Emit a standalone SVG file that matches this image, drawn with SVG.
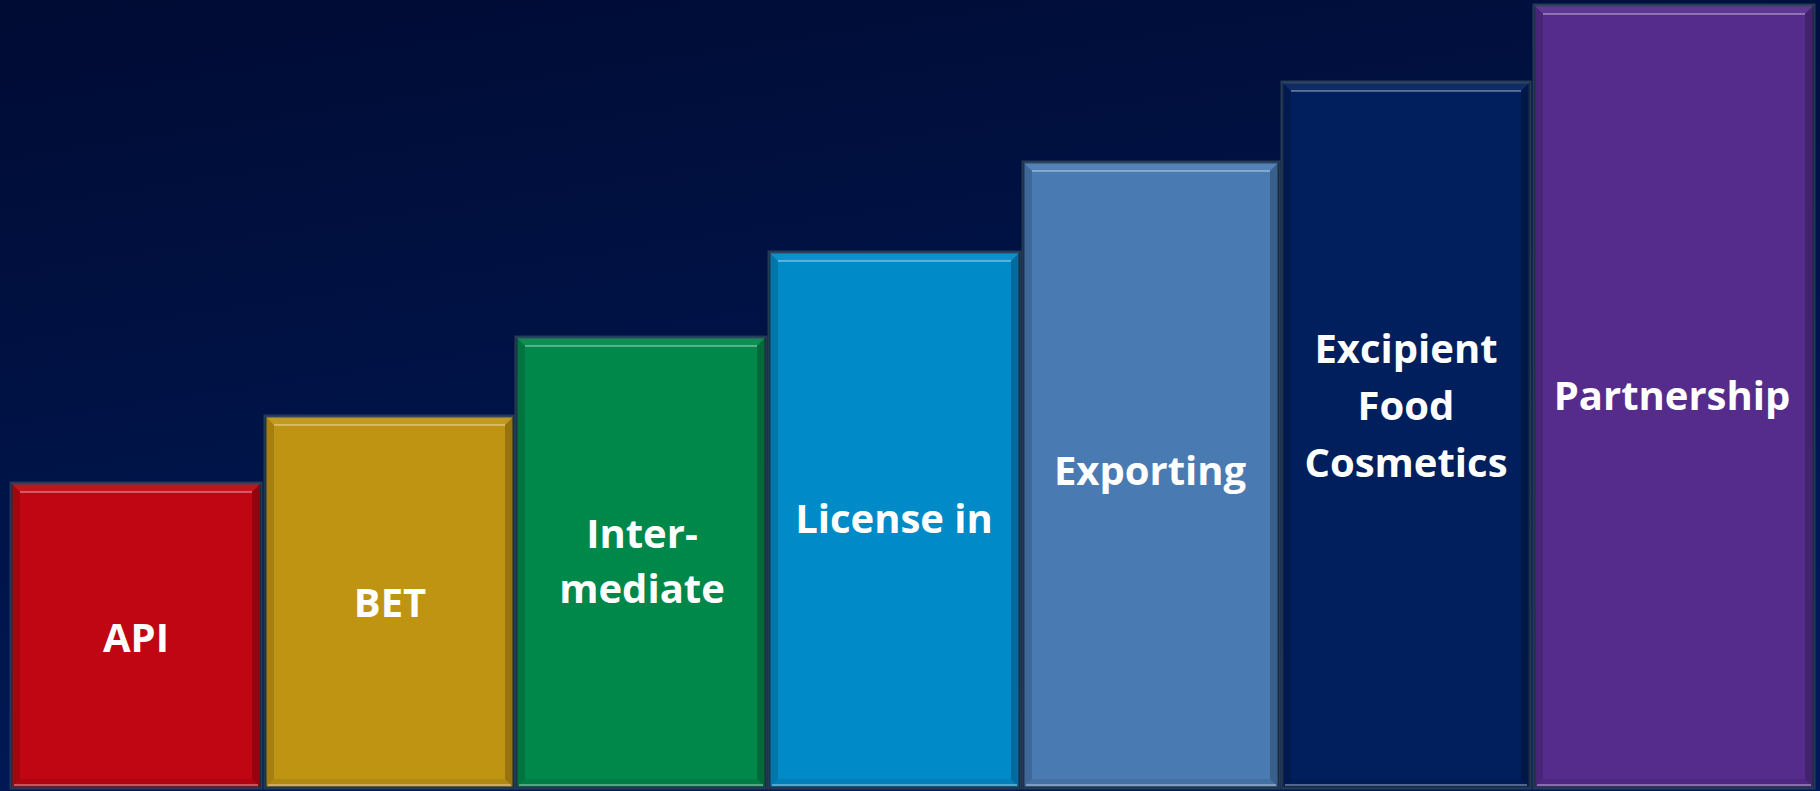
<svg xmlns="http://www.w3.org/2000/svg" width="1820" height="791" viewBox="0 0 1820 791">
<defs>
<linearGradient id="bg" x1="0" y1="0" x2="0.35" y2="1">
<stop offset="0" stop-color="#000b33"/>
<stop offset="1" stop-color="#001a58"/>
</linearGradient>
<style>
.frame{stroke:#253a55;stroke-width:3}
.l{fill:#000;fill-opacity:0.14}
.r{fill:#000;fill-opacity:0.22}
.t{fill:#fff;fill-opacity:0.06}
.b{fill:#000;fill-opacity:0.08}
.hl{stroke:#fff;stroke-opacity:0.32;stroke-width:2}
.lbl{font-family:"Open Sans","Liberation Sans",sans-serif;font-weight:bold;font-size:40px;fill:#fff;text-anchor:middle}
</style>
</defs>
<rect width="1820" height="791" fill="url(#bg)"/>
<g id="connectors"/>
<g id="api">
<rect class="frame" x="11" y="483" width="250" height="305" fill="#bf0612"/>
<polygon class="l" points="11,483 20,492 20,779 11,788"/>
<polygon class="r" points="261,483 252,492 252,779 261,788"/>
<polygon class="t" points="11,483 261,483 252,492 20,492"/>
<polygon class="b" points="11,788 261,788 252,779 20,779"/>
<line class="hl" x1="20" y1="492" x2="252" y2="492"/>
<line class="hl" x1="14" y1="785" x2="258" y2="785"/>
<text class="lbl" x="136" y="652">API</text>
</g>
<g id="bet">
<rect class="frame" x="265" y="416" width="249" height="372" fill="#c09413"/>
<polygon class="l" points="265,416 274,425 274,779 265,788"/>
<polygon class="r" points="514,416 505,425 505,779 514,788"/>
<polygon class="t" points="265,416 514,416 505,425 274,425"/>
<polygon class="b" points="265,788 514,788 505,779 274,779"/>
<line class="hl" x1="274" y1="425" x2="505" y2="425"/>
<line class="hl" x1="268" y1="785" x2="511" y2="785"/>
<text class="lbl" x="390" y="617">BET</text>
</g>
<g id="intermediate">
<rect class="frame" x="516" y="337" width="250" height="451" fill="#00874a"/>
<polygon class="l" points="516,337 525,346 525,779 516,788"/>
<polygon class="r" points="766,337 757,346 757,779 766,788"/>
<polygon class="t" points="516,337 766,337 757,346 525,346"/>
<polygon class="b" points="516,788 766,788 757,779 525,779"/>
<line class="hl" x1="525" y1="346" x2="757" y2="346"/>
<line class="hl" x1="519" y1="785" x2="763" y2="785"/>
<text class="lbl" x="642" y="548">Inter-</text>
<text class="lbl" x="642" y="603">mediate</text>
</g>
<g id="license">
<rect class="frame" x="769" y="252" width="251" height="536" fill="#008ac8"/>
<polygon class="l" points="769,252 778,261 778,779 769,788"/>
<polygon class="r" points="1020,252 1011,261 1011,779 1020,788"/>
<polygon class="t" points="769,252 1020,252 1011,261 778,261"/>
<polygon class="b" points="769,788 1020,788 1011,779 778,779"/>
<line class="hl" x1="778" y1="261" x2="1011" y2="261"/>
<line class="hl" x1="772" y1="785" x2="1017" y2="785"/>
<text class="lbl" x="894" y="533">License in</text>
</g>
<g id="exporting">
<rect class="frame" x="1023" y="162" width="256" height="626" fill="#4a7ab2"/>
<polygon class="l" points="1023,162 1032,171 1032,779 1023,788"/>
<polygon class="r" points="1279,162 1270,171 1270,779 1279,788"/>
<polygon class="t" points="1023,162 1279,162 1270,171 1032,171"/>
<polygon class="b" points="1023,788 1279,788 1270,779 1032,779"/>
<line class="hl" x1="1032" y1="171" x2="1270" y2="171"/>
<line class="hl" x1="1026" y1="785" x2="1276" y2="785"/>
<text class="lbl" x="1150" y="485">Exporting</text>
</g>
<g id="excipient">
<rect class="frame" x="1282" y="82" width="248" height="706" fill="#001f5c"/>
<polygon class="l" points="1282,82 1291,91 1291,779 1282,788"/>
<polygon class="r" points="1530,82 1521,91 1521,779 1530,788"/>
<polygon class="t" points="1282,82 1530,82 1521,91 1291,91"/>
<polygon class="b" points="1282,788 1530,788 1521,779 1291,779"/>
<line class="hl" x1="1291" y1="91" x2="1521" y2="91"/>
<line class="hl" x1="1285" y1="785" x2="1527" y2="785"/>
<text class="lbl" x="1406" y="363">Excipient</text>
<text class="lbl" x="1406" y="420">Food</text>
<text class="lbl" x="1406" y="477">Cosmetics</text>
</g>
<g id="partnership">
<rect class="frame" x="1534" y="5" width="280" height="783" fill="#552c8b"/>
<polygon class="l" points="1534,5 1543,14 1543,779 1534,788"/>
<polygon class="r" points="1814,5 1805,14 1805,779 1814,788"/>
<polygon class="t" points="1534,5 1814,5 1805,14 1543,14"/>
<polygon class="b" points="1534,788 1814,788 1805,779 1543,779"/>
<line class="hl" x1="1543" y1="14" x2="1805" y2="14"/>
<line class="hl" x1="1537" y1="785" x2="1811" y2="785"/>
<text class="lbl" x="1672" y="410">Partnership</text>
</g>
</svg>
